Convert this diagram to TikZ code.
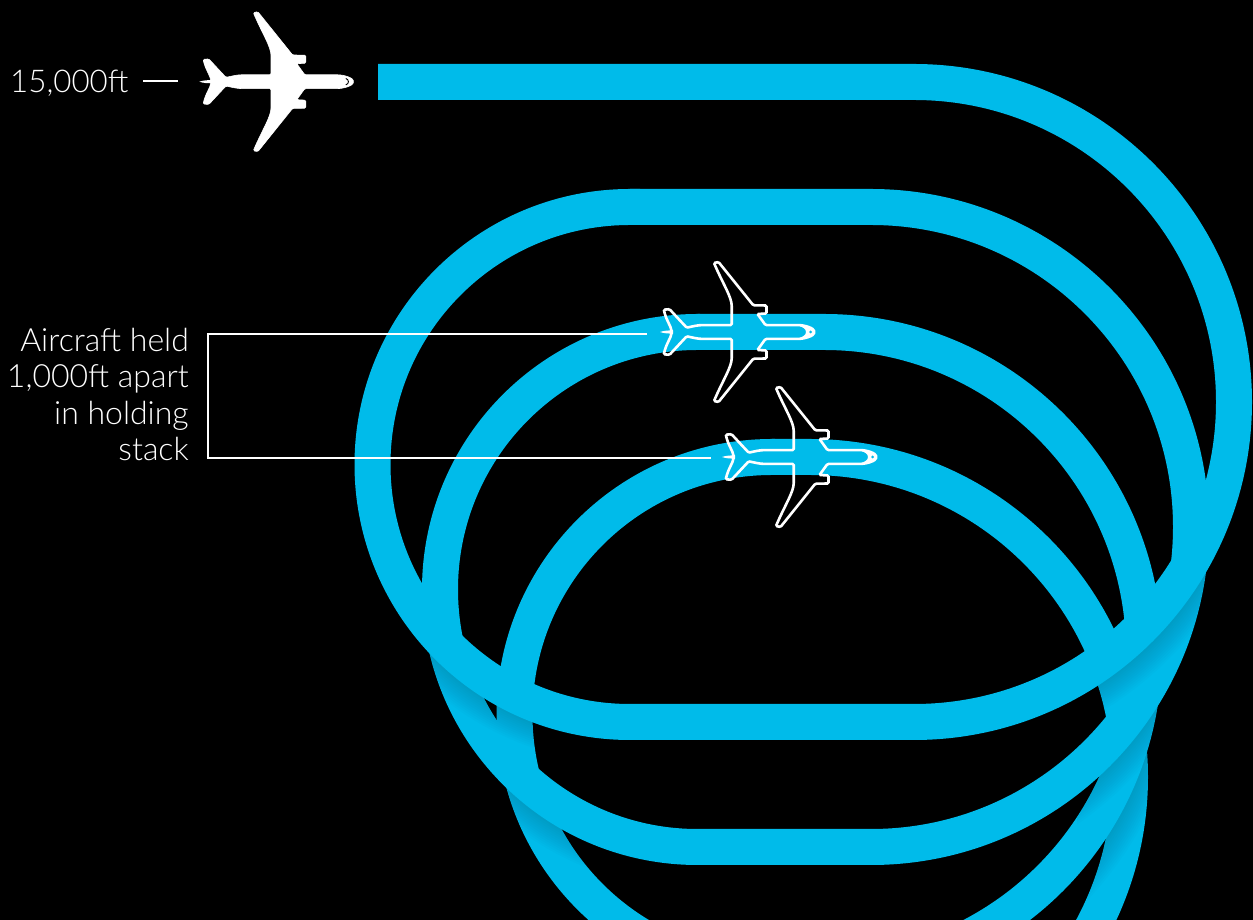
\documentclass[tikz,border=0pt]{standalone}
\usepackage{fontspec}
\setmainfont{Lato Light}
\definecolor{ribbon}{HTML}{00BBEA}
\newcommand\lapD{(772,463) -- (810,463) arc[start angle=90,end angle=-90,radius=320] -- (760,-177)}
\newcommand\lapC{(697.5,588) -- (824,588) arc[start angle=90,end angle=-90,radius=320] -- (772,-52) arc[start angle=270,end angle=90,radius=257.5] -- (775,463)}
\newcommand\lapB{(630,713) -- (871,713) arc[start angle=90,end angle=-90,radius=320] -- (697.5,73) arc[start angle=270,end angle=90,radius=257.5] -- (700,588)}
\newcommand\lapA{(378,838) -- (914,838) arc[start angle=90,end angle=-90,radius=320] -- (630,198) arc[start angle=270,end angle=90,radius=257.5] -- (640,713)}
\newcommand\planeoutline{(0,0) .. controls (0,3.6) and (-9,6.9) .. (-17,6.9) -- (-48.5,6.9) -- (-56.5,18) -- (-47.5,18.5) -- (-47.5,26.5) -- (-60.7,26.7) -- (-95.5,70) -- (-100,69) .. controls (-91,48) and (-82.3,35) .. (-82.3,25) -- (-82.3,6.9) -- (-110.7,6.9) .. controls (-116,6.9) and (-122,5.5) .. (-127.3,4.3) -- (-144.5,22.8) -- (-150.2,22.3) .. controls (-148,12) and (-143,6) .. (-142.3,0) .. controls (-143,-6) and (-148,-12) .. (-150.2,-22.3) -- (-144.5,-22.8) -- (-127.3,-4.3) .. controls (-122,-5.5) and (-116,-6.9) .. (-110.7,-6.9) -- (-82.3,-6.9) -- (-82.3,-25) .. controls (-82.3,-35) and (-91,-48) .. (-100,-69) -- (-95.5,-70) -- (-60.7,-26.7) -- (-47.5,-26.5) -- (-47.5,-18.5) -- (-56.5,-18) -- (-48.5,-6.9) -- (-17,-6.9) .. controls (-9,-6.9) and (0,-3.6) .. (0,0) -- cycle}
\newcommand\planespike{(-154,0) .. controls (-150,1.4) and (-146,1.6) .. (-141,1.6) -- (-141,-1.6) .. controls (-146,-1.6) and (-150,-1.4) .. (-154,0) -- cycle}
\newcommand\shadowfrom[2]{%
  \begin{scope}
    \clip #2;
    \foreach \k in {1,...,12}{
      \draw[line width={36pt+4pt*\k},draw=black,draw opacity=.010] #1;
    }
  \end{scope}}
\tikzset{
  x=1pt,y=1pt,
  band/.style={draw=ribbon,line width=36pt},
  leader/.style={draw=white,line width=2.8pt},
  planefilled/.style={fill=white,draw=white,line width=.6pt,rounded corners=1.2pt},
  planeline/.style={draw=white,line width=2.6pt,rounded corners=1.2pt},
  lbl/.style={text=white,inner sep=0pt,font=\fontsize{32}{36.5}\selectfont},
  altlbl/.style={text=white,inner sep=0pt,font=\fontsize{31.3}{36.5}\selectfont}
}
\begin{document}
\begin{tikzpicture}
\fill[black] (0,0) rectangle (1253,920);
\useasboundingbox (0,0) rectangle (1253,920);
\begin{scope}
\clip (0,0) rectangle (1253,920);
\draw[band] \lapD;
\shadowfrom{\lapC}{(1143,240) -- (1069,62) -- (1069,-10) -- (1300,-10) -- (1300,240) -- cycle}
\draw[band] \lapC;
\shadowfrom{\lapB}{(1180,310) -- (1077,148) -- (1077,60) -- (1300,60) -- (1300,310) -- cycle}
\shadowfrom{\lapB}{(470,210) -- (600,92) -- (600,20) -- (470,20) -- cycle}
\draw[band] \lapB;
\shadowfrom{\lapA}{(1223,435) -- (1120,273) -- (1049,228) -- (1049,120) -- (1300,120) -- (1300,435) -- cycle}
\shadowfrom{\lapA}{(420,306.5) -- (560,208) -- (560,120) -- (420,120) -- cycle}
\draw[band] \lapA;
\end{scope}

% top aircraft, solid
\begin{scope}[shift={(353.3,838.3)}]
\fill[white] \planespike;
\path[planefilled] \planeoutline;
\draw[black,line width=.9pt] (-7.5,3.2) .. controls (-4,2.2) and (-4,-2.2) .. (-7.5,-3.2);
\end{scope}

% held aircraft, outlined
\foreach \px/\py in {814/588, 876/463}{
\begin{scope}[shift={(\px,\py)}]
\fill[white] \planespike;
\path[planeline] \planeoutline;
\fill[white] (0,0) .. controls (0,3.6) and (-9,6.9) .. (-17,6.9) .. controls (-11,5) and (-8,3) .. (-8,0) .. controls (-8,-3) and (-11,-5) .. (-17,-6.9) .. controls (-9,-6.9) and (0,-3.6) .. (0,0) -- cycle;
\fill[ribbon] (-3.4,0) circle (1.5);
\end{scope}
}

\node[altlbl,anchor=base west] (alt) at (10,827) {15,000ft};
\coordinate (tickA) at (143,839);
\coordinate (tickB) at (178,839);
\draw[leader] (tickA) -- (tickB);

\node[lbl,align=right,anchor=base east] (held) at (189,459) {Aircraft held\\1,000ft apart\\in holding\\stack};
\coordinate (upperEnd) at (647,586);
\coordinate (lowerEnd) at (711,462);
\coordinate (bracketTop) at (208,586);
\coordinate (bracketLow) at (208,462);
\draw[leader,line join=miter] (upperEnd) -- (bracketTop) -- (bracketLow) -- (lowerEnd);
\end{tikzpicture}
\end{document}
